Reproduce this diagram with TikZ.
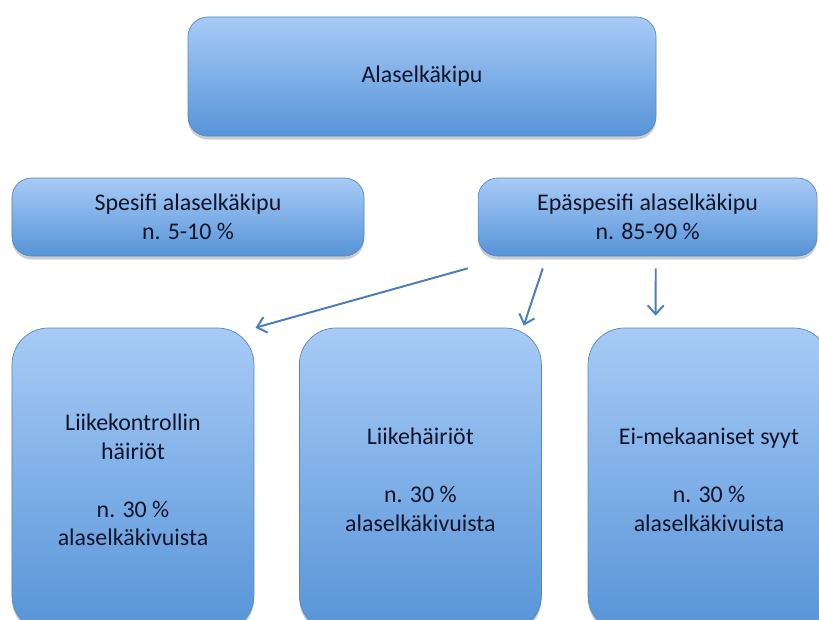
\documentclass[tikz,border=0pt]{standalone}
\usepackage{fontspec}
\setmainfont{Carlito}
\usetikzlibrary{calc,shadows,arrows.meta}

\definecolor{boxtop}{RGB}{168,203,246}
\definecolor{boxbottom}{RGB}{86,148,216}
\definecolor{boxline}{RGB}{88,134,196}
\definecolor{arrowblue}{RGB}{74,126,187}
\definecolor{textnavy}{RGB}{18,20,42}

\begin{document}
\begin{tikzpicture}[
                font=\fontsize{17}{20.5}\selectfont,
                >={Straight Barb[length=2.2mm,width=4mm]},
                % Stile per i riquadri (sfumatura blu)
                bluebox/.style={
                    draw=boxline,
                    line width=0.5pt,
                    top color=boxtop,
                    bottom color=boxbottom,
                    text=textnavy,
                    align=center,
                    drop shadow={shadow xshift=0pt, shadow yshift=-2.5pt, opacity=0.4}
                },
                headbox/.style={bluebox, rounded corners=14pt},
                tallbox/.style={bluebox, rounded corners=26pt,
                    minimum width=6.05cm, minimum height=7.6cm},
                link/.style={->, draw=arrowblue, line width=1.4pt}
            ]

                % Area visibile
                \clip (0, 0) rectangle (20.475, -15.475);
                \useasboundingbox (0, 0) rectangle (20.475, -15.475);

                % ========================================================
                % 1. Riquadro principale (in alto)
                % ========================================================
                \node[headbox, minimum width=11.7cm, minimum height=2.975cm]
                    (alaselka) at (10.55, -1.9125) {Alaselkäkipu};

                % ========================================================
                % 2. Riquadri intermedi
                % ========================================================
                \node[headbox, minimum width=8.8cm, minimum height=1.95cm]
                    (spesifi) at (4.7, -5.425) {Spesifi alaselkäkipu\\n. 5-10 \%};

                \node[headbox, minimum width=8.475cm, minimum height=1.95cm]
                    (epaspesifi) at (16.19, -5.425) {Epäspesifi alaselkäkipu\\n. 85-90 \%};

                % ========================================================
                % 3. Riquadri inferiori
                % ========================================================
                \node[tallbox] (kontrolli) at (3.325, -12.0)
                    {Liikekontrollin\\häiriöt\\[20.5pt]n. 30 \%\\alaselkäkivuista};

                \node[tallbox] (liike) at (10.51, -12.0)
                    {Liikehäiriöt\\[20.5pt]n. 30 \%\\alaselkäkivuista};

                \node[tallbox] (eimek) at (17.725, -12.0)
                    {Ei-mekaaniset syyt\\[20.5pt]n. 30 \%\\alaselkäkivuista};

                % ========================================================
                % 4. Frecce
                % ========================================================
                \coordinate (s1) at ($(epaspesifi.south west)+(-0.25, -0.3)$);
                \coordinate (s2) at ($(epaspesifi.south west)+(1.625, -0.3)$);
                \coordinate (s3) at ($(epaspesifi.south west)+(4.45, -0.3)$);

                \draw[link] (s1) -- ($(kontrolli.north east)+(0.03, 0)$);
                \draw[link] (s2) -- ($(liike.north east)+(-0.45, 0.05)$);
                \draw[link] (s3) -- ($(eimek.north west)+(1.7, 0.3)$);

            \end{tikzpicture}
\end{document}
